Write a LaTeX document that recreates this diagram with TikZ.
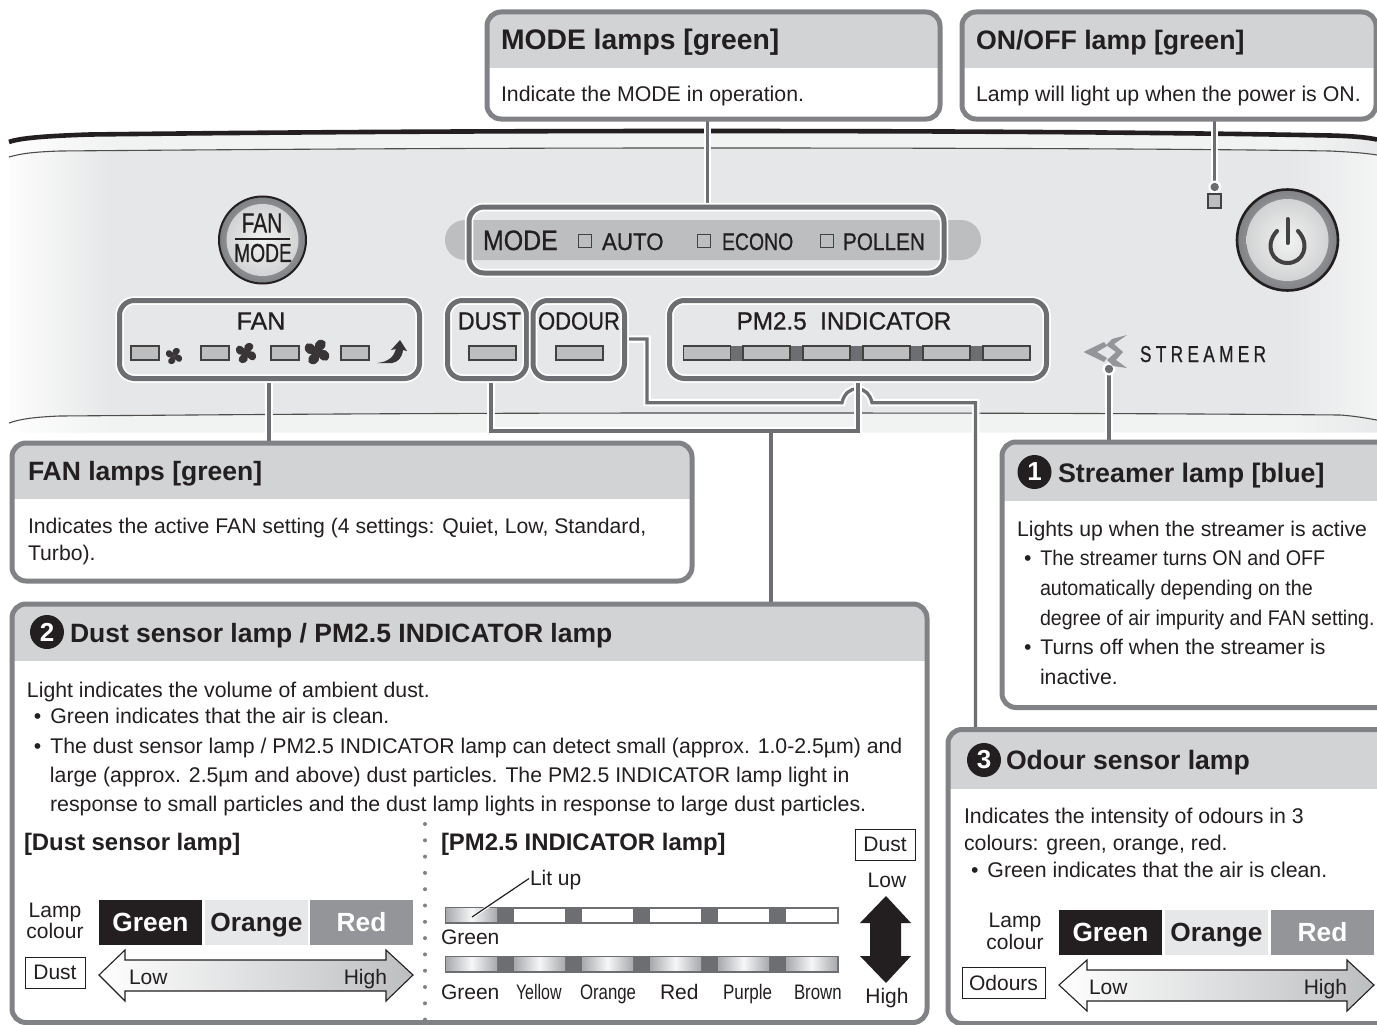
\documentclass[tikz,border=0pt]{standalone}
\usepackage{fontspec}
\usepackage{graphicx}
\setmainfont{Liberation Sans}
\newfontfamily\strfont[LetterSpace=25,FakeBold=0.8]{Liberation Sans}
\newfontfamily\pfont[FakeBold=0.8]{Liberation Sans}
\usetikzlibrary{calc}
\definecolor{ink}{HTML}{231F20}
\definecolor{framegray}{HTML}{808285}
\definecolor{hiliteg}{HTML}{6D6E71}
\definecolor{headgray}{HTML}{D1D3D4}
\definecolor{panelg}{HTML}{E6E7E8}
\definecolor{stripg}{HTML}{F1F2F2}
\definecolor{lampg}{HTML}{BCBEC0}
\definecolor{redg}{HTML}{939598}
\definecolor{segg}{HTML}{A7A9AC}
\pgfdeclarehorizontalshading{panelmain}{100bp}{color(0bp)=(white!92!panelg); color(25bp)=(white!92!panelg); color(28.7bp)=(panelg); color(71.8bp)=(panelg); color(75bp)=(white!55!panelg); color(100bp)=(white!55!panelg)}
\pgfdeclarehorizontalshading{panelstrip}{100bp}{color(0bp)=(white!92!stripg); color(25bp)=(white!92!stripg); color(28.7bp)=(stripg); color(71.8bp)=(stripg); color(75bp)=(panelg!80!stripg); color(100bp)=(panelg!80!stripg)}
\pgfdeclarehorizontalshading{litseg}{100bp}{color(0bp)=(segg); color(25bp)=(segg); color(50bp)=(white!90!segg); color(75bp)=(segg); color(100bp)=(segg)}
\pgfdeclarelayer{panel}
\pgfdeclarelayer{wires}
\pgfsetlayers{panel,wires,main}
\newcommand{\fs}[1]{\fontsize{#1}{#1}\selectfont}
\newcommand{\cnd}[2]{\scalebox{#1}[1]{#2}}
\tikzset{
  txt/.style={inner sep=0pt,outer sep=0pt,text=ink},
  boxframe/.style={draw=framegray,line width=5pt,rounded corners=14pt,inner sep=0pt,outer sep=0pt},
  hilite/.style={draw=hiliteg,line width=5pt,rounded corners=15pt,inner sep=0pt,outer sep=0pt},
  wire/.style={draw=hiliteg,line width=3.3pt},
  halo/.style={draw=white,line width=7.5pt},
  lamp/.style={draw=ink!85,line width=1.1pt,fill=lampg},
  tagbox/.style={draw=ink,line width=1pt,inner sep=0pt,outer sep=0pt,text=ink,font=\fs{21}},
  colbox/.style={inner sep=0pt,outer sep=0pt,font=\bfseries\fs{26.3},text height=23pt,text depth=6pt},
  flatarrow/.style={draw=ink,line width=1.1pt,left color=white,right color=lampg},
}
% name x1 y1 x2 y2 yheader
\newcommand{\infobox}[6]{%
  \fill[white,rounded corners=14pt] (#2,#3) rectangle (#4,#5);
  \begin{scope}
    \clip[rounded corners=14pt] (#2,#3) rectangle (#4,#5);
    \fill[headgray] (#2,#3) rectangle (#4,#6);
  \end{scope}
  \node[boxframe,minimum width={(#4-#2)*1pt},minimum height={(#5-#3)*1pt}] (#1) at ({(#2+#4)/2},{(#3+#5)/2}) {};
}
\newcommand{\hibox}[5]{%
  \draw[white,line width=8.5pt,rounded corners=15pt] (#2,#3) rectangle (#4,#5);
  \node[hilite,minimum width={(#4-#2)*1pt},minimum height={(#5-#3)*1pt}] (#1) at ({(#2+#4)/2},{(#3+#5)/2}) {};
}
\newcommand{\fanicon}[3]{%
  \foreach \aa in {0,90,180,270}{
    \fill[ink!90,shift={(#1,#2)},rotate=\aa,scale=#3] (0,0) .. controls (-0.4,-0.55) and (-0.1,-1.1) .. (0.45,-1.0) .. controls (1.0,-0.85) and (0.7,-0.1) .. (0,0) -- cycle;
  }
}
\newcommand{\numdisc}[4]{%
  \node[circle,fill=ink,text=white,inner sep=0pt,outer sep=0pt,minimum size=34pt,font=\bfseries\fs{26}] (#1) at (#2,#3) {#4};
}
\begin{document}
\begin{tikzpicture}[x=1pt,y=-1pt]
\useasboundingbox (0,0) rectangle (1377,1025);
% ---------- panel
\begin{pgfonlayer}{panel}
\begin{scope}
  \clip (9,139) .. controls (20,136) and (45,135) .. (90,134) .. controls (300,132) and (500,131) .. (700,131) .. controls (1000,131) and (1200,133) .. (1330,136) .. controls (1350,136) and (1365,137) .. (1377,139) -- (1377,432.5) -- (9,432.5) -- cycle;
  \path[shading=panelstrip] (9,125) rectangle (1377,433);
  \clip (9,157) .. controls (20,154) and (30,152) .. (60,151) .. controls (300,149) and (500,148) .. (700,148) .. controls (1000,148) and (1200,149) .. (1330,151) .. controls (1350,152) and (1365,153) .. (1377,155) -- (1377,420) .. controls (1365,418) and (1355,416) .. (1340,415) .. controls (1100,413) and (900,413) .. (700,413) .. controls (400,413) and (200,415) .. (60,416) .. controls (35,417) and (20,419) .. (9,423) -- cycle;
  \path[shading=panelmain] (9,125) rectangle (1377,433);
\end{scope}
\draw[ink,line width=4.6pt] (9,142) .. controls (20,138) and (45,136) .. (90,134.5) .. controls (300,132) and (500,131) .. (700,131) .. controls (1000,131) and (1200,133) .. (1330,135.5) .. controls (1350,136) and (1365,137) .. (1377,139.5);
\draw[ink!80,line width=1.1pt] (9,157) .. controls (20,154) and (30,152) .. (60,151) .. controls (300,149) and (500,148) .. (700,148) .. controls (1000,148) and (1200,149) .. (1330,151) .. controls (1350,152) and (1365,153) .. (1377,155);
\draw[ink!80,line width=1.1pt] (9,423) .. controls (20,419) and (35,417) .. (60,416) .. controls (200,415) and (400,413) .. (700,413) .. controls (900,413) and (1100,413) .. (1340,415) .. controls (1355,416) and (1365,418) .. (1377,420);
% mode capsule
\fill[lampg,rounded corners=19.9pt] (445,220) rectangle (981,260);
% FAN/MODE button
\draw[ink,line width=2pt,inner color=lampg,outer color=framegray] (262.5,240) circle[radius=43.5];
\shade[inner color=stripg,outer color=headgray] (262.5,240) circle[radius=36];
% power button
\draw[ink,line width=2.6pt,inner color=lampg,outer color=framegray] (1287.5,240) circle[radius=50.5];
\shade[inner color=stripg,outer color=panelg!90!ink] (1287.5,240) circle[radius=41];
\end{pgfonlayer}
% FAN/MODE texts
\node[txt,font=\pfont\fs{28}] (fantop) at (262,223) {\cnd{.75}{FAN}};
\node[txt,font=\pfont\fs{26}] (modebot) at (263,253) {\cnd{.74}{MODE}};
\draw[ink,line width=1.5pt] (235,239) -- (290,239);
% power symbol
\draw[ink!85,line width=4pt,line cap=round] (1277,231) .. controls (1264,245) and (1272,263) .. (1287.5,263) .. controls (1303,263) and (1311,245) .. (1298,231);
\draw[ink!85,line width=4pt,line cap=round] (1287.5,219) -- (1287.5,243);
% Mode row
\node[txt,anchor=base west,font=\pfont\fs{28}] (modeword) at (483,250) {\cnd{.89}{MODE}};
\foreach \nm/\xx in {autoc/578,econoc/697,pollenc/820}{
  \node[draw=ink!85,line width=1.1pt,minimum width=13pt,minimum height=13pt,inner sep=0pt] (\nm) at ({\xx+7},241) {};
}
\node[txt,anchor=base west,font=\pfont\fs{24}] (autow) at (602,250) {\cnd{.93}{AUTO}};
\node[txt,anchor=base west,font=\pfont\fs{24}] (econow) at (722,250) {\cnd{.81}{ECONO}};
\node[txt,anchor=base west,font=\pfont\fs{24}] (pollenw) at (843,250) {\cnd{.865}{POLLEN}};
% highlight frames
\hibox{modelamps}{469}{207}{944}{273}
\hibox{fanlamps}{119.5}{300.5}{419.5}{378.5}
\hibox{dustlamp}{447.5}{300.5}{526.5}{378.5}
\hibox{odourlamp}{533}{300.5}{624.5}{378.5}
\hibox{pmlamps}{669.5}{300.5}{1046.5}{378.5}
\node[txt,font=\pfont\fs{25}] (fanw) at (261,321) {FAN};
\node[txt,font=\pfont\fs{25}] (dustw) at (489.5,321) {\cnd{.93}{DUST}};
\node[txt,font=\pfont\fs{25}] (odourw) at (579,321) {\cnd{.88}{ODOUR}};
\node[txt,font=\pfont\fs{25}] (pmw) at (844,321) {\cnd{.97}{PM2.5\ \ INDICATOR}};
% lamps
\foreach \xx in {131,201,271,341}{\path[lamp] (\xx,346) rectangle ++(28,14);}
\path[lamp] (469,346) rectangle (516,360);
\path[lamp] (556,346) rectangle (603,360);
\fill[hiliteg] (730,345.5) rectangle (743,360.5);
\fill[hiliteg] (790,345.5) rectangle (803,360.5);
\fill[hiliteg] (850,345.5) rectangle (863,360.5);
\fill[hiliteg] (910,345.5) rectangle (923,360.5);
\fill[hiliteg] (970,345.5) rectangle (983,360.5);
\foreach \xx in {683.5,743,803,863,923,983}{\path[lamp] (\xx,346) rectangle ++(47,14);}
\fanicon{174}{356}{8}
\fanicon{246}{353}{10}
\fanicon{317}{352}{12}
\fill[ink!90] (377,363) .. controls (389,362) and (394,356) .. (396,349) -- (391,350) -- (400,340) -- (407,351) -- (403,350) .. controls (402,358) and (398,362) .. (392,363) -- cycle;
% on/off lamp
\path[lamp] (1208,194) rectangle (1221,208);
% streamer logo
\fill[redg] (1083.5,352) -- (1104,342) -- (1107,346) -- (1097,352) -- (1107,358) -- (1104,362) -- cycle;
\fill[redg] (1127,335) -- (1112,339) -- (1106,345) -- (1116,352) -- (1107,360) -- (1113,366) -- (1127,368) -- (1116,360) -- (1123,352) -- (1114,344) -- cycle;
\node[txt,anchor=base west,font=\strfont\fs{23}] (streamw) at (1140,362) {\cnd{.75}{STREAMER}};
\coordinate (onofflampdot) at (1214.7,187);
\coordinate (streamdot) at (1109,369);
% ---------- info boxes
\infobox{modebox}{487}{12}{940}{119}{68}
\node[txt,anchor=base west,font=\bfseries\fs{28.3}] (modet) at (501,50) {MODE lamps [green]};
\node[txt,anchor=base west,font=\fs{21.3}] (modeb) at (501,102) {Indicate the MODE in operation.};
\infobox{onoffbox}{962}{12}{1376}{119}{68}
\node[txt,anchor=base west,font=\bfseries\fs{26.7}] (onofft) at (976,50) {ON/OFF lamp [green]};
\node[txt,anchor=base west,font=\fs{21.3}] (onoffb) at (976,102) {Lamp will light up when the power is ON.};
\infobox{fanbox}{12}{443}{692}{581}{499}
\node[txt,anchor=base west,font=\bfseries\fs{26.5}] (fant) at (28,480) {FAN lamps [green]};
\node[txt,anchor=north west,align=left,font=\fontsize{21.2}{27}\selectfont] (fanb) at (28,518) {Indicates the active FAN setting (4 settings: Quiet, Low, Standard,\\Turbo).};
\infobox{streamerbox}{1002}{442}{1395}{707.5}{501}
\numdisc{one}{1034.5}{472}{1}
\node[txt,anchor=base west,font=\bfseries\fs{26.8}] (streamt) at (1058,482) {Streamer lamp [blue]};
\node[txt,anchor=north west,align=left,font=\fontsize{21.2}{29.6}\selectfont] (streamb) at (1017,521) {Lights up when the streamer is active\\[0pt]\hspace*{7pt}•\hspace*{9pt}\cnd{.93}{The streamer turns ON and OFF}\\\hspace*{23pt}\cnd{.93}{automatically depending on the}\\\hspace*{23pt}\cnd{.925}{degree of air impurity and FAN setting.}\\\hspace*{7pt}•\hspace*{9pt}Turns off when the streamer is\\\hspace*{23pt}inactive.};
\infobox{dustbox}{12}{604}{927}{1022.5}{661}
\numdisc{two}{47}{632}{2}
\node[txt,anchor=base west,font=\bfseries\fs{26.5}] (dustt) at (70,642) {Dust sensor lamp / PM2.5 INDICATOR lamp};
\node[txt,anchor=north west,align=left,font=\fontsize{21.25}{29.3}\selectfont] (dustb) at (27,682) {Light indicates the volume of ambient dust.\\[-3pt]\hspace*{7pt}•\hspace*{9pt}Green indicates that the air is clean.\\\hspace*{7pt}•\hspace*{9pt}The dust sensor lamp / PM2.5 INDICATOR lamp can detect small (approx. 1.0-2.5µm) and\\\hspace*{23pt}large (approx. 2.5µm and above) dust particles. The PM2.5 INDICATOR lamp light in\\\hspace*{23pt}\scalebox{1.006}[1]{response to small particles and the dust lamp lights in response to large dust particles.}};
\node[txt,anchor=base west,font=\bfseries\fs{23.9}] (dustsub) at (24,850) {[Dust sensor lamp]};
\node[txt,anchor=base west,font=\bfseries\fs{23.9}] (pmsub) at (441,850) {[PM2.5 INDICATOR lamp]};
\foreach \k in {0,...,12}{\fill[framegray] (425,{824+16.3*\k}) circle[radius=2];}
% dust lamp colours
\node[txt,align=center,font=\fontsize{21}{21.5}\selectfont] (lampc1) at (55,921) {Lamp\\colour};
\node[colbox,fill=ink,text=white,minimum width=103pt,minimum height=45pt] (g1) at (150.5,922.5) {Green};
\node[colbox,fill=panelg,text=ink,minimum width=103pt,minimum height=45pt] (o1) at (256.5,922.5) {Orange};
\node[colbox,fill=redg,text=white,minimum width=103pt,minimum height=45pt] (r1) at (361.5,922.5) {Red};
\node[tagbox,minimum width=60pt,minimum height=31pt] (dusttag) at (55,972.5) {Dust};
\path[flatarrow] (99,975) -- (125,950) -- (125,960) -- (386,960) -- (386,950) -- (413,975) -- (386,1001) -- (386,991) -- (125,991) -- (125,1001) -- cycle;
\node[txt,anchor=base west,font=\fs{21}] (low1) at (129,984) {Low};
\node[txt,anchor=base east,font=\fs{21}] (high1) at (387,984) {High};
% PM bars
\fill[hiliteg] (445,906.5) rectangle (839,923.5);
\fill[hiliteg] (445,955.5) rectangle (839,972.5);
\foreach \k in {0,...,5}{
  \ifnum\k=0\relax\else\fill[white] ({446+68*\k},908.5) rectangle ++(51,13);\fi
  \path[shading=litseg] ({446+68*\k},957.5) rectangle ++(51,13);
}
\path[shading=litseg] (446,908.5) rectangle ++(51,13);
\node[txt,anchor=base west,font=\fs{21}] (litup) at (530,885) {Lit up};
\coordinate (litfoot) at (472,917);
\draw[white,line width=3pt] (litfoot) -- (litup.west);
\draw[ink,line width=1.2pt] (litfoot) -- ([xshift=-1pt,yshift=1pt]litup.west);
\node[txt,anchor=base west,font=\fs{21}] (green0) at (441,944) {Green};
\node[txt,anchor=base west,font=\fs{21}] (lg) at (441,999) {Green};
\node[txt,anchor=base west,font=\fs{21}] (ly) at (516,999) {\cnd{.76}{Yellow}};
\node[txt,anchor=base west,font=\fs{21}] (lo) at (580,999) {\cnd{.8}{Orange}};
\node[txt,anchor=base west,font=\fs{21}] (lr) at (660,999) {Red};
\node[txt,anchor=base west,font=\fs{21}] (lp) at (723,999) {\cnd{.81}{Purple}};
\node[txt,anchor=base west,font=\fs{21}] (lb) at (794,999) {\cnd{.8}{Brown}};
\node[tagbox,minimum width=60pt,minimum height=31pt] (dusttag2) at (885,844.5) {Dust};
\node[txt,font=\fs{21}] (low2) at (887,880) {Low};
\node[txt,font=\fs{21}] (high2) at (887,998) {High};
\fill[ink] (886,896) -- (911,923) -- (901,923) -- (901,956) -- (911,956) -- (886,983) -- (860,956) -- (870,956) -- (870,923) -- (860,923) -- cycle;
\infobox{odourbox}{948}{729.5}{1395}{1023.5}{789}
\numdisc{three}{984}{760}{3}
\node[txt,anchor=base west,font=\bfseries\fs{26.6}] (odourt) at (1006,769) {Odour sensor lamp};
\node[txt,anchor=north west,align=left,font=\fontsize{21.3}{27}\selectfont] (odourb) at (964,808) {Indicates the intensity of odours in 3\\colours: green, orange, red.\\\hspace*{7pt}•\hspace*{9pt}Green indicates that the air is clean.};
\node[txt,align=center,font=\fontsize{21}{21.5}\selectfont] (lampc2) at (1015,931.5) {Lamp\\colour};
\node[colbox,fill=ink,text=white,minimum width=103pt,minimum height=45pt] (g2) at (1110.5,932.5) {Green};
\node[colbox,fill=panelg,text=ink,minimum width=103pt,minimum height=45pt] (o2) at (1216.5,932.5) {Orange};
\node[colbox,fill=redg,text=white,minimum width=103pt,minimum height=45pt] (r2) at (1322.5,932.5) {Red};
\node[tagbox,minimum width=83pt,minimum height=31pt] (odourtag) at (1003.5,982.5) {Odours};
\path[flatarrow] (1059,985) -- (1087,960) -- (1087,970) -- (1347,970) -- (1347,960) -- (1374,985) -- (1347,1011) -- (1347,1001) -- (1087,1001) -- (1087,1011) -- cycle;
\node[txt,anchor=base west,font=\fs{21}] (low3) at (1089,994) {Low};
\node[txt,anchor=base east,font=\fs{21}] (high3) at (1347,994) {High};
% ---------- connectors
\begin{pgfonlayer}{wires}
\foreach \st in {halo,wire}{
  \draw[\st] (modebox.south -| 707.5,0) -- (modelamps.north -| 707.5,0);
  \draw[\st] (onoffbox.south -| onofflampdot) -- (onofflampdot);
  \draw[\st] (streamdot) -- (streamerbox.north -| streamdot);
  \draw[\st] (fanlamps.south -| 269,0) -- (fanbox.north -| 269,0);
}
\foreach \st in {halo,wire}{
  \draw[\st] (odourlamp.east |- 0,339) -- (647,339) -- (647,402.7) -- (842,402.7) .. controls (846,384) and (868,384) .. (872,402.7) -- (975.5,402.7) -- (odourbox.north -| 975.5,0);
}
\foreach \st in {halo,wire}{
  \draw[\st] (dustlamp.south -| 491,0) -- (491,431) -- (858,431) -- (pmlamps.south -| 858,0);
  \draw[\st] (771,431) -- (dustbox.north -| 771,0);
}
\fill[white] (onofflampdot) circle[radius=6.5];
\fill[hiliteg] (onofflampdot) circle[radius=4.2];
\fill[white] (streamdot) circle[radius=6.5];
\fill[hiliteg] (streamdot) circle[radius=4.2];
\end{pgfonlayer}
\end{tikzpicture}
\end{document}
